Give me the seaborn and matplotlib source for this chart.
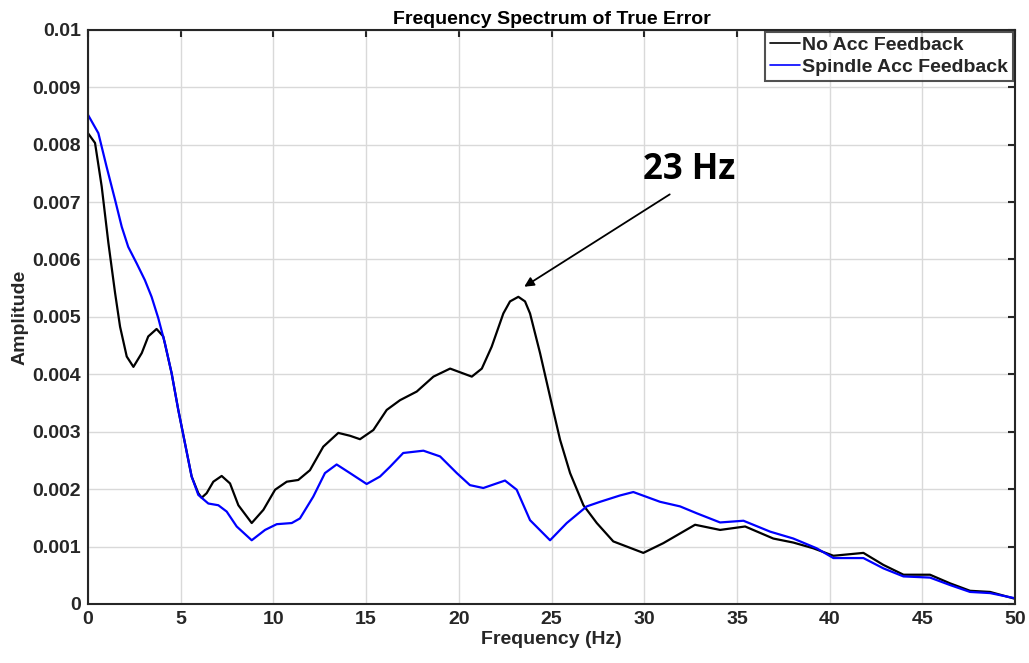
import matplotlib
matplotlib.use("Agg")
import matplotlib.pyplot as plt
import seaborn as sns
import pandas as pd

# Data
freq_no_acc = [0.0, 0.38, 0.74, 1.1, 1.46, 1.73, 2.09, 2.45, 2.9, 3.25, 3.7, 4.06, 4.51, 4.87, 5.23, 5.59, 5.95, 6.13, 6.4, 6.76, 7.21, 7.66, 8.11, 8.83, 9.46, 10.09, 10.72, 11.34, 11.97, 12.69, 13.5, 14.13, 14.67, 15.39, 16.11, 16.83, 17.73, 18.63, 19.53, 20.7, 21.24, 21.77, 22.4, 22.76, 23.21, 23.57, 23.84, 24.38, 24.92, 25.46, 26.0, 26.72, 27.44, 28.33, 29.95, 31.03, 32.74, 34.09, 35.44, 36.96, 38.04, 39.12, 40.2, 41.82, 42.9, 43.98, 45.41, 46.49, 47.57, 48.65, 50.0]
amp_no_acc = [8.2e-3, 8.03e-3, 7.27e-3, 6.29e-3, 5.42e-3, 4.83e-3, 4.31e-3, 4.13e-3, 4.37e-3, 4.66e-3, 4.79e-3, 4.66e-3, 4.02e-3, 3.38e-3, 2.8e-3, 2.22e-3, 1.93e-3, 1.85e-3, 1.93e-3, 2.13e-3, 2.23e-3, 2.1e-3, 1.72e-3, 1.41e-3, 1.64e-3, 1.99e-3, 2.13e-3, 2.16e-3, 2.33e-3, 2.74e-3, 2.98e-3, 2.93e-3, 2.87e-3, 3.03e-3, 3.38e-3, 3.55e-3, 3.7e-3, 3.96e-3, 4.1e-3, 3.96e-3, 4.1e-3, 4.48e-3, 5.06e-3, 5.27e-3, 5.35e-3, 5.27e-3, 5.06e-3, 4.37e-3, 3.61e-3, 2.86e-3, 2.28e-3, 1.72e-3, 1.41e-3, 1.09e-3, 0.89e-3, 1.06e-3, 1.38e-3, 1.29e-3, 1.35e-3, 1.14e-3, 1.07e-3, 0.97e-3, 0.84e-3, 0.89e-3, 0.68e-3, 0.51e-3, 0.51e-3, 0.36e-3, 0.23e-3, 0.21e-3, 0.09e-3]

freq_spindle = [0.0, 0.56, 1.0, 1.46, 1.82, 2.17, 2.63, 3.07, 3.43, 3.79, 4.15, 4.51, 4.87, 5.23, 5.59, 5.95, 6.49, 7.03, 7.48, 8.02, 8.83, 9.55, 10.18, 10.99, 11.43, 12.15, 12.78, 13.41, 14.13, 15.03, 15.75, 16.29, 17.0, 18.09, 18.99, 19.89, 20.6, 21.32, 22.49, 23.12, 23.84, 24.92, 25.82, 26.9, 27.62, 28.69, 29.41, 30.85, 31.93, 32.83, 34.09, 35.35, 36.79, 38.04, 39.3, 40.2, 41.82, 42.9, 43.98, 45.41, 46.49, 47.57, 48.65, 50.0]
amp_spindle = [8.52e-3, 8.2e-3, 7.62e-3, 7.04e-3, 6.57e-3, 6.22e-3, 5.93e-3, 5.64e-3, 5.35e-3, 4.98e-3, 4.54e-3, 4.02e-3, 3.38e-3, 2.8e-3, 2.22e-3, 1.9e-3, 1.75e-3, 1.72e-3, 1.61e-3, 1.35e-3, 1.11e-3, 1.29e-3, 1.39e-3, 1.41e-3, 1.49e-3, 1.87e-3, 2.28e-3, 2.43e-3, 2.28e-3, 2.09e-3, 2.22e-3, 2.39e-3, 2.63e-3, 2.67e-3, 2.57e-3, 2.28e-3, 2.07e-3, 2.02e-3, 2.15e-3, 1.99e-3, 1.46e-3, 1.11e-3, 1.41e-3, 1.7e-3, 1.78e-3, 1.89e-3, 1.95e-3, 1.78e-3, 1.7e-3, 1.58e-3, 1.42e-3, 1.45e-3, 1.26e-3, 1.14e-3, 0.97e-3, 0.8e-3, 0.8e-3, 0.62e-3, 0.48e-3, 0.46e-3, 0.33e-3, 0.21e-3, 0.19e-3, 0.1e-3]

series_names = ["No Acc Feedback", "Spindle Acc Feedback"]
series_colors = ["#000000", "#0000FF"]
x_ticks = [0, 5, 10, 15, 20, 25, 30, 35, 40, 45, 50]
y_ticks = [0, 0.001, 0.002, 0.003, 0.004, 0.005, 0.006, 0.007, 0.008, 0.009, 0.01]
y_tick_labels = ["0", "0.001", "0.002", "0.003", "0.004", "0.005", "0.006", "0.007", "0.008", "0.009", "0.01"]

df = pd.concat([
    pd.DataFrame({"Frequency": freq_no_acc, "Amplitude": amp_no_acc, "Series": series_names[0]}),
    pd.DataFrame({"Frequency": freq_spindle, "Amplitude": amp_spindle, "Series": series_names[1]}),
], ignore_index=True)

sns.set_theme(style="white")
plt.rcParams['font.family'] = ['Liberation Sans', 'DejaVu Sans']
plt.rcParams['font.weight'] = 'bold'

fig = plt.figure(figsize=(10.29, 6.63), dpi=100)
ax = fig.add_axes([0.0855, 0.089, 0.901, 0.866])

sns.lineplot(data=df, x="Frequency", y="Amplitude", hue="Series", hue_order=series_names,
             palette=series_colors, sort=False, estimator=None, linewidth=1.6, ax=ax)
for ln in ax.get_lines():
    ln.set_solid_joinstyle("round")

ax.set_xlim(0, 50)
ax.set_ylim(0, 0.01)
ax.set_xticks(x_ticks)
ax.set_yticks(y_ticks)
ax.set_yticklabels(y_tick_labels)
ax.grid(True, color="#d9d9d9", linewidth=1.0)
ax.set_axisbelow(True)
ax.tick_params(direction="in", length=5, width=1.5, color="#262626", labelsize=14,
               top=True, right=True, labelcolor="#262626", pad=5)
for lbl in ax.get_xticklabels() + ax.get_yticklabels():
    lbl.set_fontweight("bold")
for sp in ax.spines.values():
    sp.set_color("#262626")
    sp.set_linewidth(1.5)
    sp.set_visible(True)

ax.set_xlabel("Frequency (Hz)", fontsize=14, fontweight="bold", color="#262626", labelpad=2)
ax.set_ylabel("Amplitude", fontsize=14, fontweight="bold", color="#262626", labelpad=3)
ax.set_title("Frequency Spectrum of True Error", fontsize=14, fontweight="bold", pad=4, color="black")

leg = ax.legend(loc="upper right", frameon=True, fancybox=False, borderaxespad=0.1,
                handlelength=1.5, handletextpad=0.15, borderpad=0.25, labelspacing=0.2,
                prop={"weight": "bold", "size": 14})
leg.get_frame().set_edgecolor("#262626")
leg.get_frame().set_linewidth(1.5)
for line in leg.get_lines():
    line.set_linewidth(1.2)

ax.annotate("", xy=(23.4, 0.0055), xytext=(31.5, 0.00716),
            arrowprops=dict(arrowstyle="-|>", color="black", lw=1.3, mutation_scale=14))
ax.text(32.4, 0.00756, "23 Hz", fontsize=25, fontweight="bold", ha="center", va="center",
        color="black", family=["Open Sans", "DejaVu Sans"])

fig.savefig("out.png", dpi=100)
